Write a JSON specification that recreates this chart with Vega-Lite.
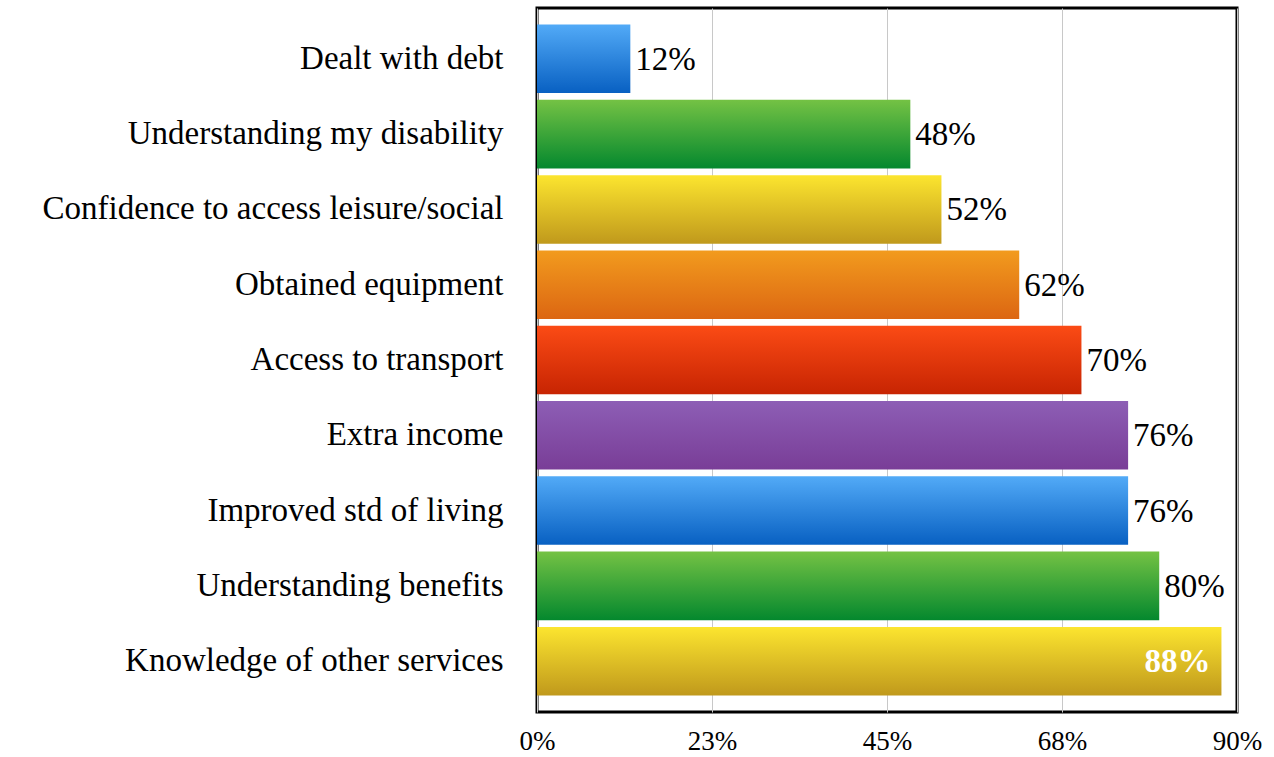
{
  "$schema": "https://vega.github.io/schema/vega-lite/v6.json",
  "width": 700,
  "height": 704,
  "autosize": {"type": "none"},
  "padding": {"left": 537, "top": 8, "right": 37, "bottom": 45},
  "background": "white",
  "config": {
    "view": {"stroke": "black", "strokeWidth": 3},
    "font": "Liberation Serif"
  },
  "data": {
    "values": [
      {"category": "Dealt with debt", "value": 12, "colour": "blue"},
      {"category": "Understanding my disability", "value": 48, "colour": "green"},
      {"category": "Confidence to access leisure/social", "value": 52, "colour": "yellow"},
      {"category": "Obtained equipment", "value": 62, "colour": "orange"},
      {"category": "Access to transport", "value": 70, "colour": "red"},
      {"category": "Extra income", "value": 76, "colour": "purple"},
      {"category": "Improved std of living", "value": 76, "colour": "blue"},
      {"category": "Understanding benefits", "value": 80, "colour": "green"},
      {"category": "Knowledge of other services", "value": 88, "colour": "yellow"}
    ]
  },
  "encoding": {
    "y": {
      "field": "category",
      "type": "nominal",
      "sort": ["Dealt with debt", "Understanding my disability", "Confidence to access leisure/social", "Obtained equipment", "Access to transport", "Extra income", "Improved std of living", "Understanding benefits", "Knowledge of other services"],
      "scale": {"paddingInner": 0.09, "paddingOuter": 0.22},
      "axis": {"title": null, "domain": false, "ticks": false, "labelFontSize": 33, "labelColor": "black", "labelPadding": 34, "labelFont": "Liberation Serif", "labelLimit": 600}
    },
    "x": {
      "field": "value",
      "type": "quantitative",
      "scale": {"domain": [0, 90], "nice": false},
      "axis": {"title": null, "values": [0, 22.5, 45, 67.5, 90], "labelExpr": "format(datum.value, '.0f') + '%'", "domain": false, "ticks": false, "grid": true, "gridColor": "#c8c8c8", "gridWidth": 1, "labelFontSize": 27, "labelColor": "black", "labelPadding": 16, "labelFlush": false, "labelFont": "Liberation Serif"}
    }
  },
  "layer": [
    {"transform": [{"filter": "datum.colour == 'blue'"}], "mark": {"type": "bar", "color": {"gradient": "linear", "x1": 0, "y1": 0, "x2": 0, "y2": 1, "stops": [{"offset": 0, "color": "#52aaf7"}, {"offset": 1, "color": "#0860c2"}]}}},
    {"transform": [{"filter": "datum.colour == 'green'"}], "mark": {"type": "bar", "color": {"gradient": "linear", "x1": 0, "y1": 0, "x2": 0, "y2": 1, "stops": [{"offset": 0, "color": "#74c244"}, {"offset": 1, "color": "#04882e"}]}}},
    {"transform": [{"filter": "datum.colour == 'yellow'"}], "mark": {"type": "bar", "color": {"gradient": "linear", "x1": 0, "y1": 0, "x2": 0, "y2": 1, "stops": [{"offset": 0, "color": "#fce52f"}, {"offset": 1, "color": "#c0991c"}]}}},
    {"transform": [{"filter": "datum.colour == 'orange'"}], "mark": {"type": "bar", "color": {"gradient": "linear", "x1": 0, "y1": 0, "x2": 0, "y2": 1, "stops": [{"offset": 0, "color": "#f29b1e"}, {"offset": 1, "color": "#dc6612"}]}}},
    {"transform": [{"filter": "datum.colour == 'red'"}], "mark": {"type": "bar", "color": {"gradient": "linear", "x1": 0, "y1": 0, "x2": 0, "y2": 1, "stops": [{"offset": 0, "color": "#fb4b15"}, {"offset": 1, "color": "#c72402"}]}}},
    {"transform": [{"filter": "datum.colour == 'purple'"}], "mark": {"type": "bar", "color": {"gradient": "linear", "x1": 0, "y1": 0, "x2": 0, "y2": 1, "stops": [{"offset": 0, "color": "#8d5eb5"}, {"offset": 1, "color": "#793d97"}]}}},
    {
      "transform": [{"filter": "datum.value < 85"}, {"calculate": "datum.value + '%'", "as": "label"}],
      "mark": {"type": "text", "align": "left", "baseline": "middle", "dx": 5, "dy": 1, "fontSize": 33, "color": "black", "font": "Liberation Serif"},
      "encoding": {"text": {"field": "label", "type": "nominal"}}
    },
    {
      "transform": [{"filter": "datum.value >= 85"}, {"calculate": "datum.value + '%'", "as": "label"}],
      "mark": {"type": "text", "align": "right", "baseline": "middle", "dx": -11, "dy": 1, "fontSize": 33, "fontWeight": 600, "color": "white", "font": "Liberation Serif"},
      "encoding": {"text": {"field": "label", "type": "nominal"}}
    }
  ]
}
